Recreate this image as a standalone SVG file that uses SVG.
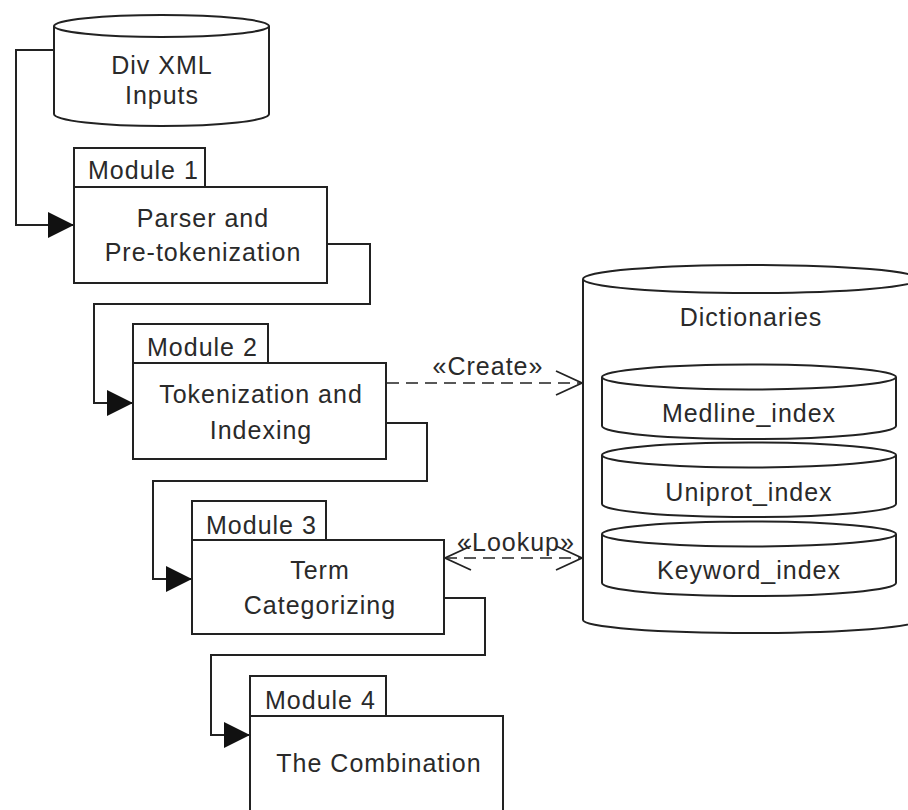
<svg xmlns="http://www.w3.org/2000/svg" width="908" height="810" viewBox="0 0 908 810">
<defs>
<style>
.ln{fill:none;stroke:#222;stroke-width:2}
.shp{fill:#fff;stroke:#222;stroke-width:2}
.dash{fill:none;stroke:#222;stroke-width:1.6;stroke-dasharray:12,7}
text{font-family:"Liberation Sans",Arial,sans-serif;font-size:25px;fill:#2a2a2a;letter-spacing:1px}
.c{text-anchor:middle}
</style>
<marker id="filled" markerUnits="userSpaceOnUse" markerWidth="28" markerHeight="28" refX="26" refY="13" orient="auto">
<path d="M0,0 L26,13 L0,26 Z" fill="#111"/>
</marker>
<marker id="open" markerUnits="userSpaceOnUse" markerWidth="30" markerHeight="30" refX="27" refY="14" orient="auto-start-reverse">
<path d="M1,2 L27,14 L1,26" fill="none" stroke="#222" stroke-width="1.8"/>
</marker>
</defs>
<rect width="908" height="810" fill="#fff"/>

<g id="connectors">
<polyline class="ln" points="54,50 16,50 16,225 74,225" marker-end="url(#filled)"/>
<polyline class="ln" points="327,244 370,244 370,304 94,304 94,403 133,403" marker-end="url(#filled)"/>
<polyline class="ln" points="386,423 427,423 427,481 153,481 153,579 192,579" marker-end="url(#filled)"/>
<polyline class="ln" points="444,598 485,598 485,655 211,655 211,735 250,735" marker-end="url(#filled)"/>
<line class="dash" x1="387" y1="383" x2="582" y2="383" marker-end="url(#open)"/>
<text class="c" x="488" y="375">«Create»</text>
<line class="dash" x1="445" y1="558" x2="582" y2="558" marker-start="url(#open)" marker-end="url(#open)"/>
<text class="c" x="516" y="551">«Lookup»</text>
</g>

<g id="div-xml-inputs">
<path class="shp" d="M54,26 L54,114 A107.5,12 0 0 0 269,114 L269,26"/>
<ellipse class="shp" cx="161.5" cy="26" rx="107.5" ry="11"/>
<text class="c" x="162" y="74">Div XML</text>
<text class="c" x="162" y="104">Inputs</text>
</g>

<g id="module1">
<rect class="shp" x="74" y="148" width="131" height="39"/>
<rect class="shp" x="74" y="187" width="253" height="96"/>
<text x="88" y="179">Module 1</text>
<text class="c" x="203" y="227">Parser and</text>
<text class="c" x="203" y="261">Pre-tokenization</text>
</g>

<g id="module2">
<rect class="shp" x="133" y="324" width="135" height="39"/>
<rect class="shp" x="133" y="363" width="253" height="96"/>
<text x="147" y="356">Module 2</text>
<text class="c" x="261" y="403">Tokenization and</text>
<text class="c" x="261" y="439">Indexing</text>
</g>

<g id="module3">
<rect class="shp" x="192" y="501" width="134" height="39"/>
<rect class="shp" x="192" y="540" width="252" height="94"/>
<text x="206" y="534">Module 3</text>
<text class="c" x="320" y="579">Term</text>
<text class="c" x="320" y="614">Categorizing</text>
</g>

<g id="module4">
<rect class="shp" x="250" y="676" width="136" height="40"/>
<rect class="shp" x="250" y="716" width="253" height="110"/>
<text x="265" y="709">Module 4</text>
<text class="c" x="379" y="772">The Combination</text>
</g>

<g id="dictionaries">
<path class="shp" d="M583,279 L583,620 A168,13 0 0 0 919,620 L919,279"/>
<ellipse class="shp" cx="751" cy="279" rx="168" ry="14"/>
<text class="c" x="751" y="326">Dictionaries</text>
</g>

<g id="medline-index">
<path class="shp" d="M602,377 L602,426 A147,13 0 0 0 896,426 L896,377"/>
<ellipse class="shp" cx="749" cy="377" rx="147" ry="12.5"/>
<text class="c" x="749" y="422">Medline_index</text>
</g>

<g id="uniprot-index">
<path class="shp" d="M602,455 L602,504 A147,13 0 0 0 896,504 L896,455"/>
<ellipse class="shp" cx="749" cy="455" rx="147" ry="12.5"/>
<text class="c" x="749" y="501">Uniprot_index</text>
</g>

<g id="keyword-index">
<path class="shp" d="M602,534 L602,583 A147,13 0 0 0 896,583 L896,534"/>
<ellipse class="shp" cx="749" cy="534" rx="147" ry="12.5"/>
<text class="c" x="749" y="579">Keyword_index</text>
</g>
</svg>
